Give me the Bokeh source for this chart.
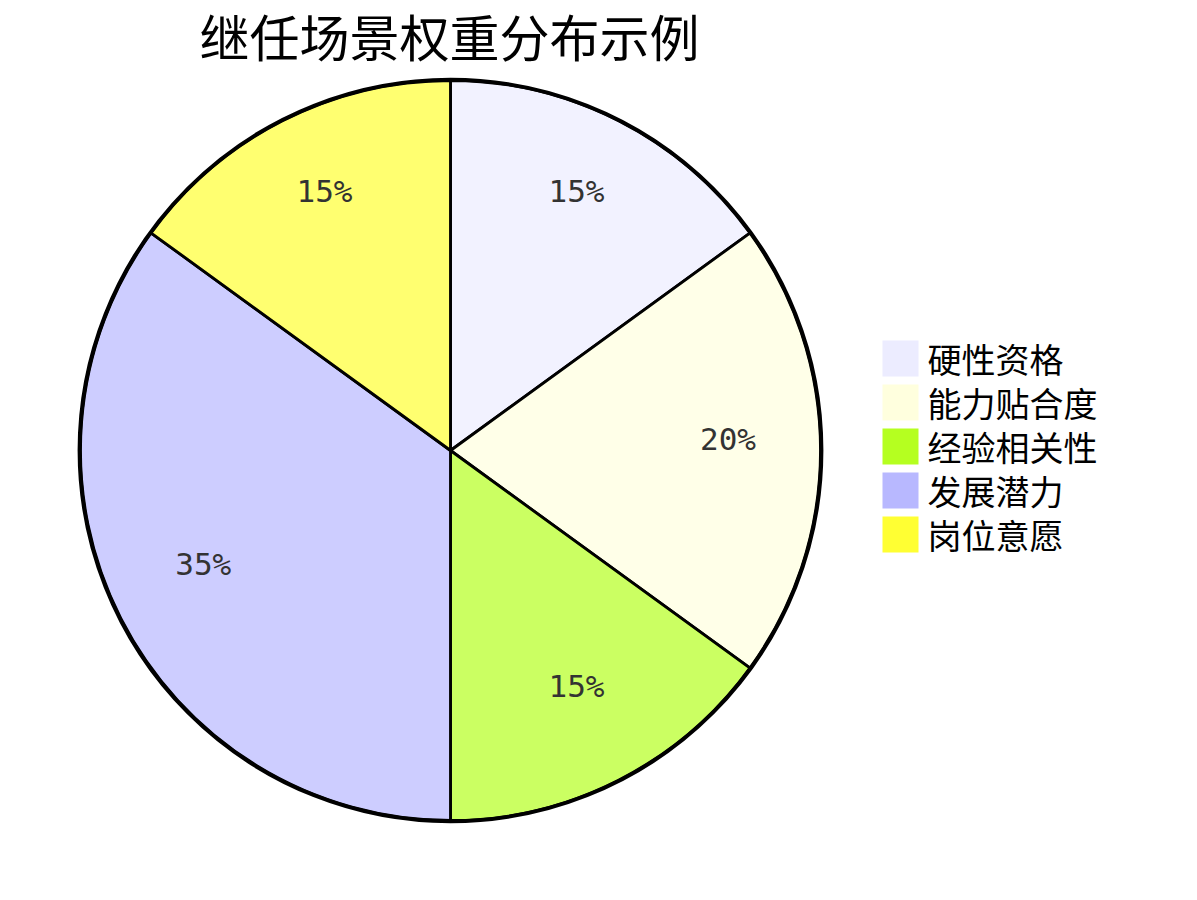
import numpy as np
from bokeh.plotting import figure
from bokeh.models import Range1d, ColumnDataSource
from bokeh.core.properties import value
from bokeh.embed import file_html
from bokeh.resources import INLINE

title = "继任场景权重分布示例"
categories = ["硬性资格", "能力贴合度", "经验相关性", "发展潜力", "岗位意愿"]
weights = [15, 20, 15, 35, 15]
colors = ["#ECECFF", "#ffffde", "#b5ff20", "#b8b8ff", "#ffff33"]

W, H = 1190, 890
p = figure(width=W, height=H, x_range=Range1d(0, W), y_range=Range1d(0, H),
           output_backend="svg", toolbar_location=None,
           x_axis_type=None, y_axis_type=None, min_border=0)
p.grid.visible = False
p.outline_line_color = None
p.background_fill_color = "white"
p.border_fill_color = "white"


def px(x):
    return x


def py(y):
    return H - y


cx, cy = px(450), py(450)
R = 370

w = np.array(weights, dtype=float)
frac = w / w.sum()
cum = np.concatenate([[0.0], np.cumsum(frac)])
start = np.pi / 2 - 2 * np.pi * cum[1:]
end = np.pi / 2 - 2 * np.pi * cum[:-1]
mid = (start + end) / 2

src = ColumnDataSource(dict(
    start=start, end=end, color=colors,
    label=[f"{v:.0f}%" for v in frac * 100],
    lx=cx + 0.75 * R * np.cos(mid),
    ly=cy + 0.75 * R * np.sin(mid),
))

p.wedge(x=cx, y=cy, radius=R, start_angle="start", end_angle="end",
        fill_color="color", fill_alpha=0.7, line_color="black", line_width=2.8,
        source=src)
p.circle(x=cx, y=cy, radius=R + 1, fill_color=None, line_color="black", line_width=3.8)

p.text(x="lx", y="ly", text="label", source=src, text_align="center",
       text_baseline="middle", y_offset=-12, text_font=value("DejaVu Sans Mono"),
       text_font_size="31px", text_color="#333333")

# title
p.text(x=[px(449)], y=[py(34)], text=[title], text_align="center", text_baseline="middle",
       text_font=value("Noto Sans CJK SC"), text_font_size="50px", text_color="black")

# legend
n = len(categories)
idx = np.arange(n)
leg_top = 340
step = 44
sq = 36
leg = ColumnDataSource(dict(
    x=[px(882 + sq / 2)] * n,
    y=[py(leg_top + sq / 2 + i * step) for i in idx],
    tx=[px(927)] * n,
    color=colors,
    name=categories,
))
p.rect(x="x", y="y", width=sq, height=sq, fill_color="color", line_color=None, source=leg)
p.text(x="tx", y="y", text="name", source=leg, text_align="left", text_baseline="middle",
       text_font=value("Noto Sans CJK SC"), text_font_size="34px", text_color="black")

open("out.html", "w").write(file_html(p, INLINE))
